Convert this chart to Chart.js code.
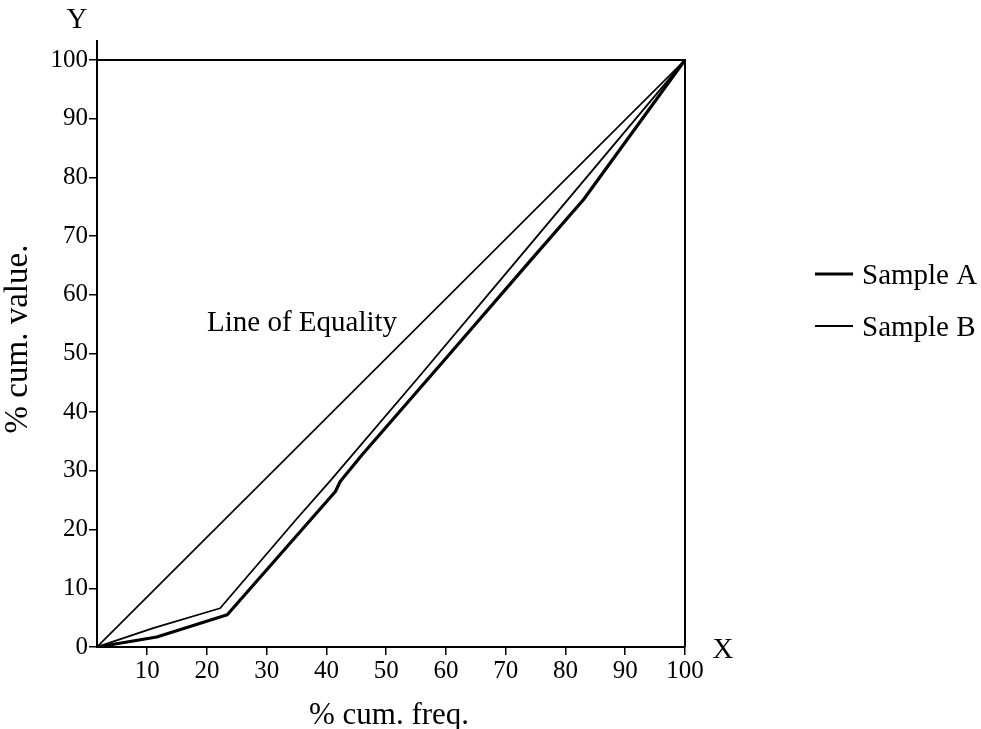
<!DOCTYPE html>
<html>
<head>
<meta charset="utf-8">
<script src="https://cdn.jsdelivr.net/npm/chart.js@4.4.1/dist/chart.umd.min.js"></script>
<style>
  html, body { margin: 0; padding: 0; background: #fff; }
  #wrap { width: 981px; height: 729px; }
</style>
</head>
<body>
<div id="wrap"><canvas id="lorenzChart" width="981" height="729"></canvas></div>
<script>
// values (% cum. freq. -> % cum. value)
const xMin = 1.6;
const xTicks = [10, 20, 30, 40, 50, 60, 70, 80, 90, 100];
const yTicks = [0, 10, 20, 30, 40, 50, 60, 70, 80, 90, 100];

const equalityX = [1.6, 100];
const equalityY = [0, 100];

const sampleAX = [1.6, 11.6, 23.4, 41.5, 42.3, 46, 60, 74.2, 83, 100];
const sampleAY = [0, 1.7, 5.5, 26.5, 28.2, 32.8, 49.2, 65.9, 76.2, 100];

const sampleBX = [1.6, 11.0, 22.2, 35, 40.7, 55.7, 71.9, 100];
const sampleBY = [0, 3.2, 6.6, 21.8, 28.4, 46.3, 65.9, 100];

function pts(xs, ys) {
    return xs.map(function (x, i) { return { x: x, y: ys[i] }; });
}

const serif = 'Liberation Serif, Times New Roman, serif';

const decor = {
    id: 'decor',
    afterDraw: function (chart) {
        const c = chart.ctx;
        const a = chart.chartArea;
        c.save();
        c.strokeStyle = '#000';
        c.lineWidth = 2;
        // top and right border, y axis extension
        c.beginPath();
        c.moveTo(a.left, a.top);
        c.lineTo(a.right, a.top);
        c.lineTo(a.right, a.bottom);
        c.moveTo(a.left, a.top);
        c.lineTo(a.left, a.top - 20);
        c.stroke();

        c.fillStyle = '#000';
        c.textBaseline = 'middle';
        c.textAlign = 'center';
        c.font = '29px ' + serif;
        c.fillText('Y', 77, 20);
        c.fillText('X', 723, 650);
        c.font = '31px ' + serif;
        c.fillText('% cum. freq.', 389, 716);
        c.save();
        c.translate(18, 339);
        c.rotate(-Math.PI / 2);
        c.font = '33px ' + serif;
        c.fillText('% cum. value.', 0, 0);
        c.restore();

        c.font = '29px ' + serif;
        c.textAlign = 'left';
        c.fillText('Line of Equality', 207, 323);

        // legend
        const items = [chart.data.datasets[2], chart.data.datasets[1]];
        const ys = [274, 326];
        items.forEach(function (ds, i) {
            c.lineWidth = ds.borderWidth;
            c.beginPath();
            c.moveTo(815, ys[i]);
            c.lineTo(853, ys[i]);
            c.stroke();
            c.fillText(ds.label, 862, ys[i] + 2);
        });
        c.restore();
    }
};

const ctx = document.getElementById('lorenzChart').getContext('2d');
const lorenzChart = new Chart(ctx, {
    type: 'line',
    data: {
        datasets: [{
            label: 'Line of Equality',
            data: pts(equalityX, equalityY),
            borderColor: '#000',
            borderWidth: 1.6
        }, {
            label: 'Sample B',
            data: pts(sampleBX, sampleBY),
            borderColor: '#000',
            borderWidth: 1.8
        }, {
            label: 'Sample A',
            data: pts(sampleAX, sampleAY),
            borderColor: '#000',
            borderWidth: 3.2
        }]
    },
    options: {
        responsive: false,
        animation: false,
        parsing: false,
        elements: {
            point: { radius: 0 },
            line: { tension: 0, borderJoinStyle: 'round' }
        },
        layout: {
            padding: { left: 0, top: 60, right: 296, bottom: 0 }
        },
        plugins: {
            legend: { display: false },
            tooltip: { enabled: false }
        },
        scales: {
            x: {
                type: 'linear',
                min: xMin,
                max: 100,
                afterBuildTicks: function (scale) {
                    scale.ticks = xTicks.map(function (v) { return { value: v }; });
                },
                afterFit: function (scale) { scale.height = 82; },
                border: { display: true, color: '#000', width: 2 },
                grid: { drawOnChartArea: false, tickLength: 8, tickColor: '#000', lineWidth: 1.5 },
                ticks: {
                    color: '#000',
                    font: { family: serif, size: 25 },
                    padding: 1,
                    maxRotation: 0,
                    autoSkip: false
                }
            },
            y: {
                type: 'linear',
                min: 0,
                max: 100,
                afterBuildTicks: function (scale) {
                    scale.ticks = yTicks.map(function (v) { return { value: v }; });
                },
                afterFit: function (scale) { scale.width = 97; },
                border: { display: true, color: '#000', width: 2 },
                grid: { drawOnChartArea: false, tickLength: 8, tickColor: '#000', lineWidth: 1.5 },
                ticks: {
                    color: '#000',
                    font: { family: serif, size: 25 },
                    padding: 1,
                    autoSkip: false
                }
            }
        }
    },
    plugins: [decor]
});
</script>
</body>
</html>
